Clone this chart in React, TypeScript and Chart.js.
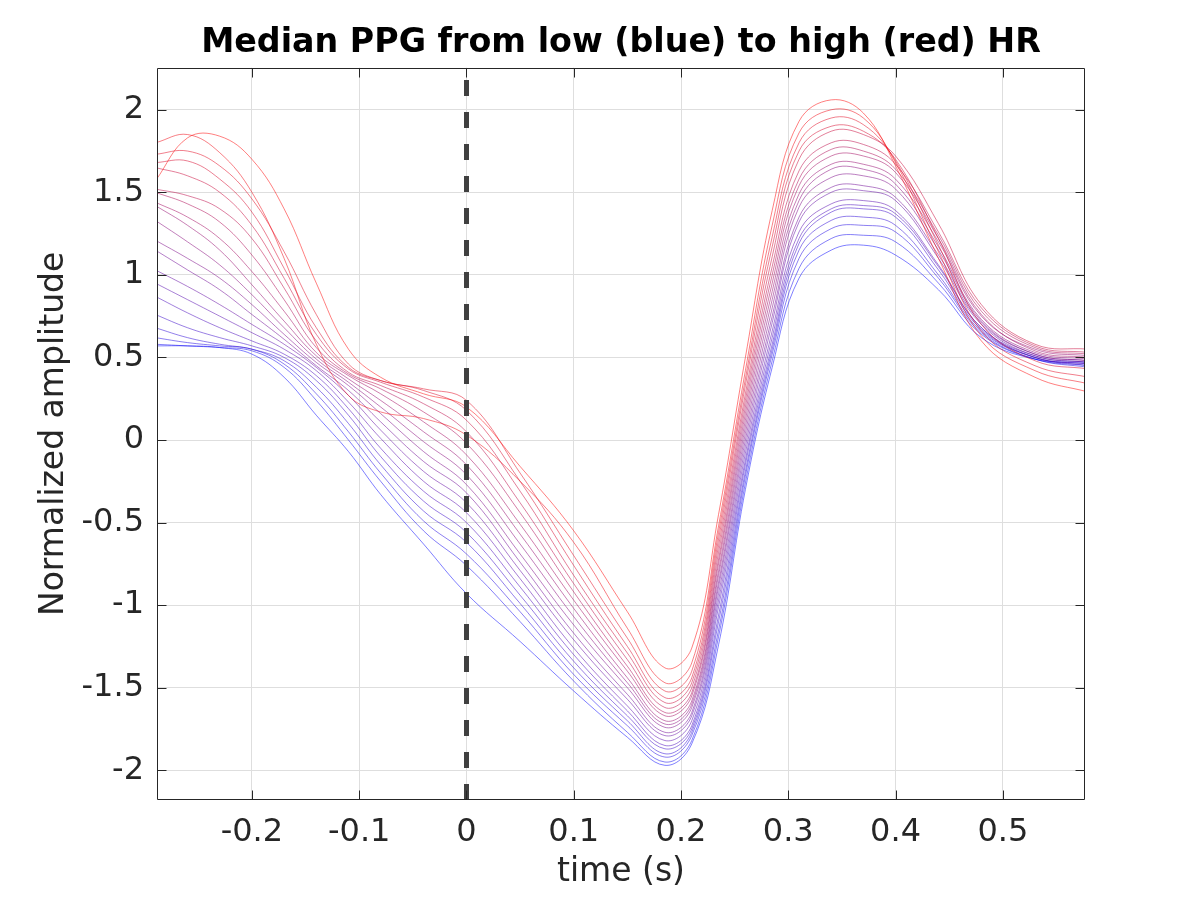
import React, { useEffect, useRef } from 'react';
import { Chart, registerables } from 'chart.js';

Chart.register(...registerables);

const FONT = 'DejaVu Sans';
const TITLE = 'Median PPG from low (blue) to high (red) HR';
const X_LABEL = 'time (s)';
const Y_LABEL = 'Normalized amplitude';

const xTicks = [-0.2, -0.1, 0, 0.1, 0.2, 0.3, 0.4, 0.5];
const xTickLabels = ['-0.2', '-0.1', '0', '0.1', '0.2', '0.3', '0.4', '0.5'];
const yTicks = [-2, -1.5, -1, -0.5, 0, 0.5, 1, 1.5, 2];
const yTickLabels = ['-2', '-1.5', '-1', '-0.5', '0', '0.5', '1', '1.5', '2'];

const X_MIN = -0.2885;
const X_MAX = 0.5766;
const Y_MIN = -2.18;
const Y_MAX = 2.255;

// vertical dashed marker
const markerTime = 0;

// sample times (s) shared by every median curve
const time = [-0.29, -0.26, -0.23, -0.2, -0.17, -0.14, -0.11, -0.08, -0.04, 0, 0.05, 0.1, 0.15, 0.185, 0.21, 0.235, 0.26, 0.285, 0.31, 0.34, 0.37, 0.4, 0.44, 0.48, 0.53, 0.58];

// median PPG per HR bin, lowest HR (blue) first
const hr01 = [0.57, 0.57, 0.56, 0.52, 0.38, 0.15, -0.07, -0.33, -0.63, -0.93, -1.22, -1.52, -1.80, -1.97, -1.84, -1.24, -0.30, 0.44, 0.98, 1.15, 1.18, 1.12, 0.91, 0.62, 0.49, 0.47];
const hr02 = [0.58, 0.57, 0.56, 0.54, 0.44, 0.24, 0.00, -0.25, -0.55, -0.76, -1.10, -1.46, -1.77, -1.95, -1.82, -1.19, -0.26, 0.48, 1.04, 1.22, 1.24, 1.20, 0.95, 0.64, 0.49, 0.45];
const hr03 = [0.62, 0.59, 0.57, 0.55, 0.46, 0.28, 0.05, -0.20, -0.49, -0.69, -1.04, -1.42, -1.73, -1.92, -1.79, -1.15, -0.22, 0.52, 1.10, 1.28, 1.30, 1.26, 0.98, 0.65, 0.49, 0.44];
const hr04 = [0.68, 0.62, 0.58, 0.55, 0.48, 0.32, 0.10, -0.15, -0.43, -0.62, -0.99, -1.38, -1.70, -1.90, -1.77, -1.10, -0.19, 0.55, 1.15, 1.33, 1.35, 1.30, 1.00, 0.66, 0.50, 0.46];
const hr05 = [0.76, 0.68, 0.62, 0.57, 0.50, 0.36, 0.15, -0.10, -0.37, -0.56, -0.94, -1.34, -1.67, -1.87, -1.75, -1.06, -0.15, 0.58, 1.19, 1.38, 1.40, 1.35, 1.03, 0.67, 0.50, 0.45];
const hr06 = [0.87, 0.77, 0.68, 0.60, 0.52, 0.39, 0.19, -0.05, -0.31, -0.50, -0.89, -1.30, -1.64, -1.85, -1.73, -1.01, -0.12, 0.62, 1.22, 1.40, 1.42, 1.37, 1.05, 0.68, 0.51, 0.47];
const hr07 = [0.95, 0.85, 0.75, 0.65, 0.55, 0.42, 0.23, 0.01, -0.25, -0.44, -0.84, -1.26, -1.61, -1.82, -1.70, -0.97, -0.08, 0.66, 1.26, 1.43, 1.45, 1.39, 1.06, 0.68, 0.50, 0.46];
const hr08 = [1.03, 0.93, 0.82, 0.70, 0.58, 0.44, 0.27, 0.06, -0.19, -0.38, -0.79, -1.21, -1.57, -1.79, -1.67, -0.93, -0.04, 0.71, 1.32, 1.50, 1.51, 1.45, 1.10, 0.70, 0.51, 0.47];
const hr09 = [1.15, 1.03, 0.91, 0.76, 0.61, 0.45, 0.30, 0.11, -0.13, -0.32, -0.74, -1.17, -1.54, -1.77, -1.65, -0.89, 0.00, 0.75, 1.35, 1.53, 1.54, 1.47, 1.12, 0.71, 0.52, 0.48];
const hr10 = [1.21, 1.10, 0.98, 0.82, 0.64, 0.47, 0.33, 0.16, -0.07, -0.27, -0.69, -1.12, -1.50, -1.74, -1.62, -0.86, 0.04, 0.80, 1.41, 1.59, 1.60, 1.52, 1.15, 0.72, 0.52, 0.48];
const hr11 = [1.33, 1.20, 1.06, 0.88, 0.68, 0.49, 0.35, 0.20, -0.01, -0.21, -0.63, -1.07, -1.47, -1.72, -1.60, -0.82, 0.08, 0.85, 1.45, 1.64, 1.64, 1.55, 1.17, 0.73, 0.53, 0.49];
const hr12 = [1.42, 1.30, 1.15, 0.94, 0.72, 0.51, 0.37, 0.24, 0.05, -0.15, -0.57, -1.02, -1.44, -1.70, -1.58, -0.79, 0.12, 0.90, 1.49, 1.67, 1.67, 1.58, 1.20, 0.75, 0.55, 0.51];
const hr13 = [1.44, 1.35, 1.22, 1.02, 0.78, 0.53, 0.39, 0.28, 0.11, -0.09, -0.51, -0.97, -1.40, -1.67, -1.55, -0.75, 0.16, 0.95, 1.54, 1.72, 1.72, 1.62, 1.22, 0.76, 0.54, 0.50];
const hr14 = [1.50, 1.43, 1.32, 1.12, 0.85, 0.56, 0.40, 0.31, 0.17, -0.02, -0.44, -0.92, -1.37, -1.65, -1.53, -0.72, 0.20, 1.00, 1.58, 1.76, 1.75, 1.64, 1.24, 0.78, 0.56, 0.52];
const hr15 = [1.52, 1.48, 1.40, 1.22, 0.92, 0.60, 0.41, 0.33, 0.22, 0.05, -0.38, -0.87, -1.33, -1.62, -1.50, -0.68, 0.24, 1.05, 1.63, 1.80, 1.79, 1.67, 1.26, 0.80, 0.57, 0.53];
const hr16 = [1.65, 1.60, 1.50, 1.30, 0.98, 0.64, 0.43, 0.35, 0.26, 0.12, -0.31, -0.82, -1.29, -1.59, -1.47, -0.64, 0.28, 1.11, 1.70, 1.87, 1.85, 1.72, 1.31, 0.82, 0.58, 0.55];
const hr17 = [1.68, 1.69, 1.58, 1.38, 1.04, 0.68, 0.44, 0.36, 0.30, 0.18, -0.25, -0.76, -1.25, -1.56, -1.44, -0.60, 0.33, 1.17, 1.75, 1.90, 1.87, 1.70, 1.22, 0.70, 0.48, 0.43];
const hr18 = [1.73, 1.75, 1.66, 1.46, 1.14, 0.76, 0.46, 0.36, 0.31, 0.24, -0.20, -0.70, -1.20, -1.52, -1.40, -0.56, 0.37, 1.23, 1.80, 1.95, 1.91, 1.69, 1.18, 0.66, 0.45, 0.38];
const hr19 = [1.80, 1.85, 1.74, 1.50, 1.10, 0.58, 0.27, 0.17, 0.13, 0.03, -0.25, -0.62, -1.14, -1.47, -1.35, -0.52, 0.42, 1.30, 1.86, 2.00, 1.95, 1.68, 1.14, 0.63, 0.42, 0.34];
const hr20 = [1.57, 1.83, 1.84, 1.70, 1.40, 0.95, 0.55, 0.38, 0.28, 0.20, -0.16, -0.55, -1.04, -1.38, -1.26, -0.45, 0.50, 1.39, 1.93, 2.06, 1.98, 1.66, 1.10, 0.60, 0.38, 0.29];

const medians = [hr01, hr02, hr03, hr04, hr05, hr06, hr07, hr08, hr09, hr10, hr11, hr12, hr13, hr14, hr15, hr16, hr17, hr18, hr19, hr20];

// box round the plot area with inward tick marks on all four sides
const frameTicks = {
  id: 'frameTicks',
  afterDatasetsDraw(chart: Chart) {
    const { ctx, chartArea: a, scales } = chart;
    const left = Math.round(a.left) + 0.5;
    const right = Math.round(a.right) - 0.5;
    const top = Math.round(a.top) + 0.5;
    const bottom = Math.round(a.bottom) - 0.5;
    ctx.save();
    ctx.strokeStyle = '#262626';
    ctx.lineWidth = 1;
    ctx.beginPath();
    for (const t of xTicks) {
      const px = Math.round(scales.x.getPixelForValue(t)) + 0.5;
      ctx.moveTo(px, bottom); ctx.lineTo(px, bottom - 9);
      ctx.moveTo(px, top); ctx.lineTo(px, top + 9);
    }
    for (const v of yTicks) {
      const py = Math.round(scales.y.getPixelForValue(v)) + 0.5;
      ctx.moveTo(left, py); ctx.lineTo(left + 9, py);
      ctx.moveTo(right, py); ctx.lineTo(right - 9, py);
    }
    ctx.rect(left, top, right - left, bottom - top);
    ctx.stroke();
    ctx.restore();
  }
};

export default function App() {
  const canvasRef = useRef<HTMLCanvasElement>(null);
  const chartRef = useRef<Chart | null>(null);

  useEffect(() => {
    if (!canvasRef.current) return;
    const ctx = canvasRef.current.getContext('2d');
    if (!ctx) return;
    if (chartRef.current) chartRef.current.destroy();

    const n = medians.length;
    const curves = medians.map((row, i) => {
      const k = i / (n - 1);
      return {
        data: time.map((t, j) => ({ x: t, y: row[j] })),
        borderColor: `rgba(${Math.round(255 * k)}, 0, ${Math.round(255 * (1 - k))}, 0.5)`,
        borderWidth: 1,
        pointRadius: 0,
        tension: 0.4,
        order: n - i,
      };
    });

    const marker = {
      data: [{ x: markerTime, y: Y_MIN }, { x: markerTime, y: Y_MAX }],
      borderColor: '#404040',
      borderWidth: 5,
      borderDash: [16, 16],
      pointRadius: 0,
      order: 0,
    };

    chartRef.current = new Chart(ctx, {
      type: 'line',
      data: { datasets: [marker, ...curves] as any },
      plugins: [frameTicks],
      options: {
        animation: false,
        responsive: true,
        maintainAspectRatio: false,
        devicePixelRatio: 1,
        parsing: false,
        layout: { padding: { left: 0, right: 115, top: 0, bottom: 0 } },
        plugins: {
          legend: { display: false },
          tooltip: { enabled: false },
          title: {
            display: true,
            text: TITLE,
            fullSize: false,
            color: '#000000',
            font: { family: FONT, size: 33.3, weight: 'bold' },
            padding: { top: 23.5, bottom: 4.2 }
          }
        },
        scales: {
          x: {
            type: 'linear',
            min: X_MIN,
            max: X_MAX,
            afterBuildTicks: (s: any) => { s.ticks = xTicks.map((v) => ({ value: v })); },
            afterFit: (s: any) => { s.height = 100; },
            grid: { color: '#dedede', drawTicks: false },
            border: { display: false },
            ticks: {
              color: '#262626',
              font: { family: FONT, size: 32 },
              padding: 13,
              maxRotation: 0,
              autoSkip: false,
              callback: (_v: any, i: number) => xTickLabels[i]
            },
            title: {
              display: true,
              text: X_LABEL,
              color: '#262626',
              font: { family: FONT, size: 33 },
              padding: { top: 0, bottom: 8 }
            }
          },
          y: {
            type: 'linear',
            min: Y_MIN,
            max: Y_MAX,
            afterBuildTicks: (s: any) => { s.ticks = yTicks.map((v) => ({ value: v })); },
            afterFit: (s: any) => { s.width = 157; },
            grid: { color: '#dedede', drawTicks: false },
            border: { display: false },
            ticks: {
              color: '#262626',
              font: { family: FONT, size: 32 },
              padding: 13,
              autoSkip: false,
              callback: (_v: any, i: number) => yTickLabels[i]
            },
            title: {
              display: true,
              text: Y_LABEL,
              color: '#262626',
              font: { family: FONT, size: 33 },
              padding: { top: 35, bottom: 0 }
            }
          }
        }
      }
    });

    return () => { if (chartRef.current) chartRef.current.destroy(); };
  }, []);

  return (
    <div style={{ position: 'absolute', left: 0, top: 0, width: 1200, height: 900, background: '#ffffff' }}>
      <canvas ref={canvasRef} />
    </div>
  );
}
